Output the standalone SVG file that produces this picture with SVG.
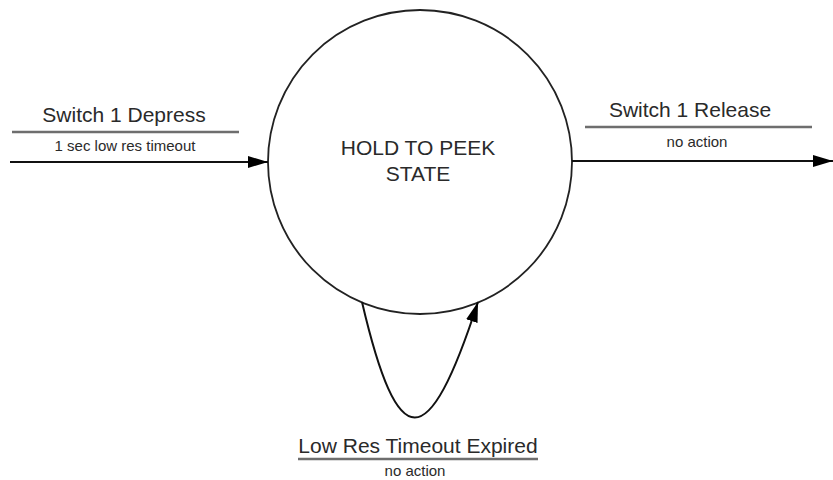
<svg xmlns="http://www.w3.org/2000/svg" width="833" height="480" viewBox="0 0 833 480">
<style>
.t{font-family:"Liberation Sans",Arial,sans-serif;fill:#2a2a2a;text-anchor:middle}
.big{font-size:21px}
.small{font-size:15px}
.ul{stroke:#6e6e6e;stroke-width:2.5;fill:none}
.edge{stroke:#111;stroke-width:2;fill:none}
</style>
<defs>
<marker id="arr" viewBox="0 0 20 12" refX="20" refY="6" markerWidth="20" markerHeight="12" markerUnits="userSpaceOnUse" orient="auto">
<path d="M0,0 L20,6 L0,12 Z" fill="#000"/>
</marker>
</defs>
<rect width="833" height="480" fill="#fff"/>
<g id="state-hold-to-peek">
<circle cx="420" cy="162" r="152" fill="none" stroke="#222" stroke-width="1.8"/>
<text class="t big" x="418" y="155">HOLD TO PEEK</text>
<text class="t big" x="418" y="181">STATE</text>
</g>
<g id="connectors">
<line class="edge" x1="10" y1="162" x2="268" y2="162" marker-end="url(#arr)"/>
<line class="edge" x1="572" y1="161" x2="833" y2="161" marker-end="url(#arr)"/>
<path class="edge" d="M362,302 C398,456 428,456 478,302" marker-end="url(#arr)"/>
</g>
<g id="label-switch1-depress">
<text class="t big" x="124" y="122">Switch 1 Depress</text>
<line class="ul" x1="12" y1="132" x2="239" y2="132"/>
<text class="t small" x="125" y="151">1 sec low res timeout</text>
</g>
<g id="label-switch1-release">
<text class="t big" x="690" y="117">Switch 1 Release</text>
<line class="ul" x1="585" y1="127" x2="812" y2="127"/>
<text class="t small" x="697" y="147">no action</text>
</g>
<g id="label-low-res-timeout">
<text class="t big" x="418" y="453">Low Res Timeout Expired</text>
<line class="ul" x1="298" y1="459" x2="538" y2="459"/>
<text class="t small" x="415" y="476">no action</text>
</g>
</svg>
